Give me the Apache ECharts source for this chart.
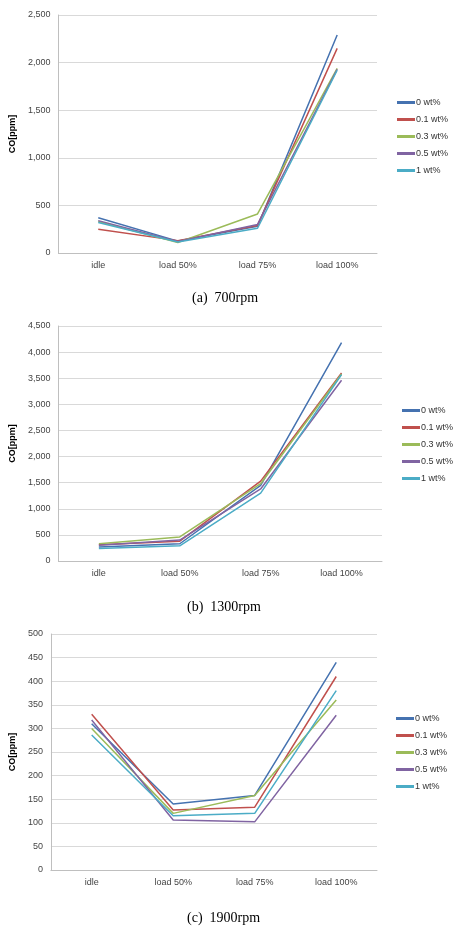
<!DOCTYPE html>
<html><head><meta charset="utf-8">
<script src="https://cdn.jsdelivr.net/npm/echarts@6/dist/echarts.min.js"></script>
<style>html,body{margin:0;padding:0;background:#fff}#c{width:460px;height:934px}</style>
</head><body><div id="c"></div>
<script>
const categories = ['idle','load 50%','load 75%','load 100%'];
const seriesNames = ['0 wt%','0.1 wt%','0.3 wt%','0.5 wt%','1 wt%'];
const colors = ['#4572B0','#C0504D','#9BBB59','#8064A2','#4BACC6'];
const titles = ['(a)  700rpm','(b)  1300rpm','(c)  1900rpm'];
const yMax = [2500, 4500, 500];
const yInterval = [500, 500, 50];
const rpm700 = [[370,125,280,2290],[250,130,290,2150],[330,110,410,1940],[340,120,300,1930],[320,115,260,1920]];
const rpm1300 = [[270,330,1450,4180],[310,380,1530,3600],[330,460,1480,3580],[300,400,1380,3460],[240,290,1300,3570]];
const rpm1900 = [[310,140,158,440],[330,127,133,410],[300,120,158,360],[318,106,102,328],[286,115,120,380]];
const allData = [rpm700, rpm1300, rpm1900];

const layout = [
  {left:55, top:15, width:322, height:238, legX:392, legY:93, titleY:286},
  {left:58, top:326, width:324, height:235, legX:397, legY:401, titleY:595},
  {left:50, top:634, width:327, height:236, legX:391, legY:709, titleY:906}
];
const grid=[],xAxis=[],yAxis=[],series=[],legend=[],title=[],graphic=[];
layout.forEach((L,i)=>{
  grid.push({left:L.left, top:L.top, width:L.width, height:L.height});
  xAxis.push({type:'category', gridIndex:i, data:categories, boundaryGap:true,
    axisLine:{lineStyle:{color:'#BFBFBF'}}, axisTick:{show:false},
    axisLabel:{color:'#444', fontSize:9, fontFamily:'Liberation Sans Narrow, Arial Narrow, sans-serif', margin:8}});
  yAxis.push({type:'value', gridIndex:i, min:0, max:yMax[i], interval:yInterval[i],
    name:'CO[ppm]', nameLocation:'middle', nameGap:i===2?31:36, nameRotate:90,
    nameTextStyle:{fontWeight:'bold', fontSize:9, color:'#000', fontFamily:'Arial, sans-serif'},
    axisLine:{show:true, lineStyle:{color:'#BFBFBF'}}, axisTick:{show:false},
    splitLine:{lineStyle:{color:'#D9D9D9'}},
    axisLabel:{color:'#444', fontSize:9, fontFamily:'Liberation Sans Narrow, Arial Narrow, sans-serif', margin:8}});
  allData[i].forEach((d,k)=>{
    series.push({type:'line', name:seriesNames[k], xAxisIndex:i, yAxisIndex:i, data:d,
      symbol:'none', lineStyle:{width:1.5, color:colors[k]}, itemStyle:{color:colors[k]}});
  });
  legend.push({orient:'vertical', left:L.legX, top:L.legY, data:seriesNames, itemGap:8,
    itemWidth:18, itemHeight:3, icon:'rect', selectedMode:false,
    textStyle:{fontSize:9, color:'#333', fontFamily:'Liberation Sans Narrow, Arial Narrow, sans-serif', padding:[0,0,0,-4]}});
  title.push({text:titles[i], left:'center', top:L.titleY, textAlign:'left',
    textStyle:{fontSize:14, fontWeight:'normal', color:'#000', fontFamily:'Liberation Serif, Times New Roman, serif'}});
});
title.forEach((t,i)=>{ t.left = 187 + (i===0?0:-5); t.textAlign='left'; });
const chart = echarts.init(document.getElementById('c'));
chart.setOption({animation:false, color:colors, grid, xAxis, yAxis, series, legend, title});
</script></body></html>
